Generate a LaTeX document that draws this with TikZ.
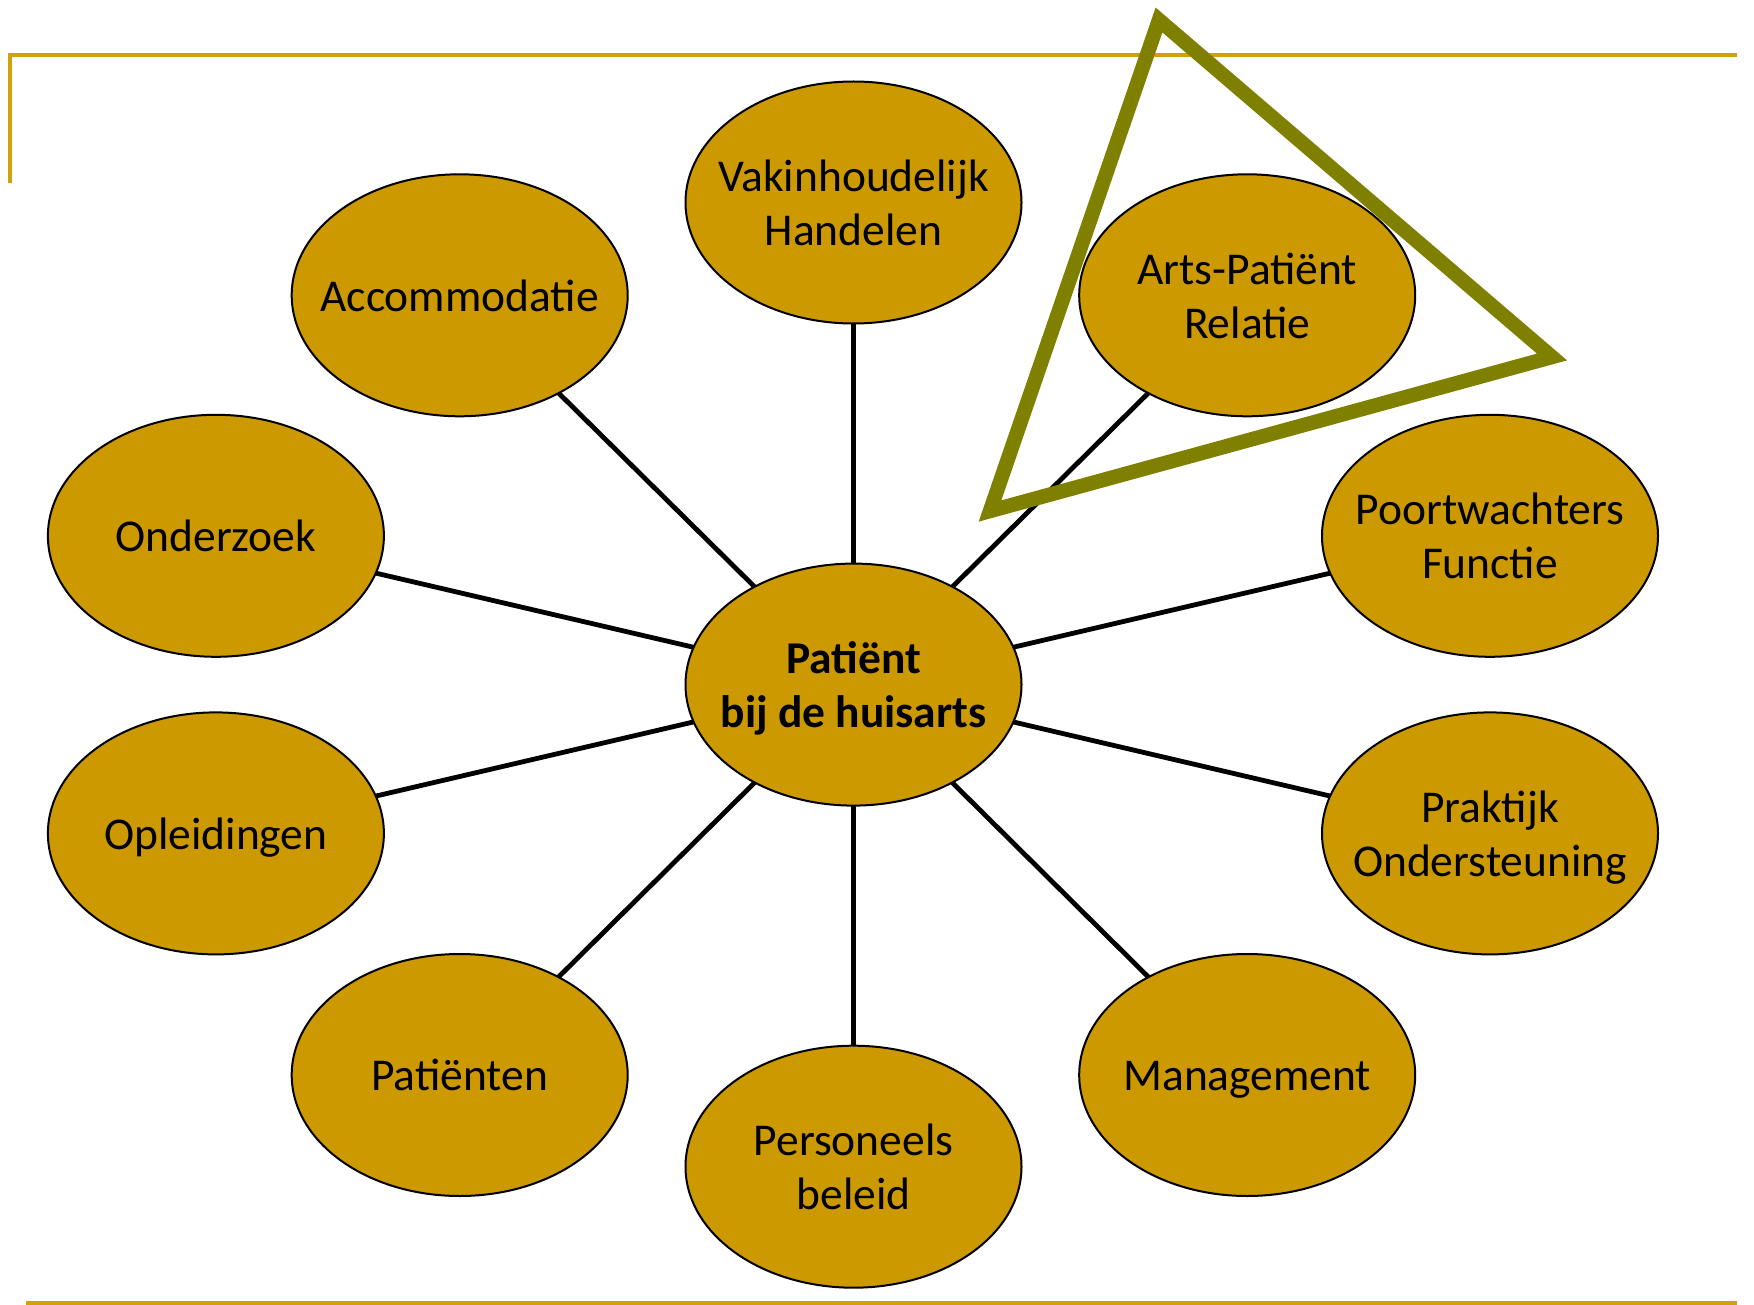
\documentclass[tikz,border=0pt]{standalone}
\usepackage{fontspec}
\setmainfont{Carlito}
\usetikzlibrary{shapes.geometric}
\definecolor{gold}{RGB}{204,153,0}
\definecolor{rulegold}{RGB}{212,160,10}
\definecolor{triolive}{RGB}{128,128,0}
\newcommand\bt[1]{\smash{\makebox[0pt]{\raisebox{-0.25em}{\begin{tabular}{@{}c@{}}#1\end{tabular}}}}}
\begin{document}
\begin{tikzpicture}[x=1pt,y=-1pt,
  bub/.style={ellipse,draw=black,line width=2pt,fill=gold,minimum width=336pt,minimum height=242pt,inner sep=0pt,outer sep=0pt,font=\fontsize{45.5}{54}\selectfont},
  link/.style={line width=4.8pt,black},
  frame/.style={line width=4pt,rulegold}]
\useasboundingbox (0,0) rectangle (1754,1305);
% frame lines
\draw[frame] (10,183) -- (10,55) -- (1737,55);
\draw[frame] (26,1303) -- (1737,1303);
% nodes
\node[bub] (c) at (853.5,684.6) {\bt{\bfseries Patiënt\\\bfseries bij de huisarts}};
\node[bub] (vak) at (853.5,202.5) {\bt{Vakinhoudelijk\\Handelen}};
\node[bub] (acc) at (459.7,295.3) {\bt{Accommodatie}};
\node[bub] (arts) at (1247.2,295.3) {\bt{Arts-Patiënt\\Relatie}};
\node[bub] (ond) at (215.9,535.8) {\bt{Onderzoek}};
\node[bub] (poort) at (1490,535.8) {\bt{Poortwachters\\Functie}};
\node[bub] (opl) at (215.9,833.4) {\bt{Opleidingen}};
\node[bub] (prak) at (1490,833.4) {\bt{Praktijk\\Ondersteuning}};
\node[bub] (pat) at (459.7,1075) {\bt{Patiënten}};
\node[bub] (pers) at (853.5,1166.7) {\bt{Personeels\\beleid}};
\node[bub] (man) at (1247.2,1075) {\bt{Management}};
% connectors
\foreach \n in {vak,acc,arts,ond,poort,opl,prak,pat,pers,man}
  \draw[link] (c) -- (\n);
% triangle
\draw[triolive,line width=14.5pt,line join=miter] (1159,20) -- (1552,357) -- (990,511) -- cycle;
\end{tikzpicture}
\end{document}
